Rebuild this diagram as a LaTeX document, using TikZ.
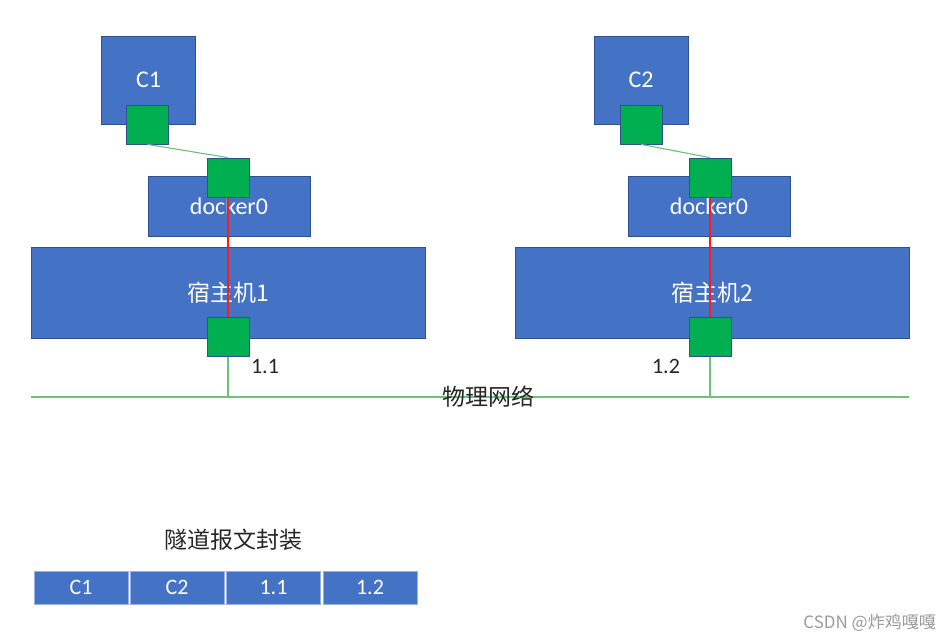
\documentclass[tikz,border=0pt]{standalone}
\usepackage{fontspec}
\setmainfont{Carlito}
\newfontfamily\cjk{Noto Sans CJK SC}
\definecolor{boxblue}{HTML}{4472C4}
\definecolor{boxedge}{HTML}{2F528F}
\definecolor{portgreen}{HTML}{00B050}
\definecolor{linkgreen}{HTML}{6CC27A}
\definecolor{tunnelred}{HTML}{FF1A1A}
\definecolor{wmgray}{HTML}{9A9A9A}
\tikzset{
  bluebox/.style={rectangle, fill=boxblue, draw=boxedge, line width=0.8pt, inner sep=0pt, text=white, font=\fontsize{24}{28}\selectfont},
  port/.style={rectangle, fill=portgreen, draw=boxedge, line width=0.8pt, minimum width=42pt, minimum height=39pt, inner sep=0pt},
  hostbox/.style={bluebox, minimum width=394pt, minimum height=91pt, font=\cjk\fontsize{23}{27}\selectfont},
  dockbox/.style={bluebox, minimum width=162pt, minimum height=60pt},
  ctrbox/.style={bluebox, minimum width=94pt, minimum height=88pt},
  pktbox/.style={rectangle, fill=boxblue, draw=boxblue!55!white, line width=0.8pt, minimum width=94pt, minimum height=33pt, inner sep=0pt, text=white, font=\fontsize{22}{26}\selectfont},
  vethlink/.style={draw=linkgreen, line width=1.1pt},
  tunnel/.style={draw=tunnelred, line width=1.1pt},
  iplabel/.style={text=black!85, font=\fontsize{22}{26}\selectfont, inner sep=0pt},
  cjklabel/.style={text=black!85, font=\cjk\fontsize{23}{27}\selectfont, inner sep=0pt}
}
\begin{document}
\begin{tikzpicture}[x=1pt, y=-1pt]
\useasboundingbox (0,0) rectangle (952,642);
% host 1 side
\node[hostbox] (h1) at (228,292.5) {宿主机1};
\node[dockbox] (d1) at (229,206) {docker0};
\node[ctrbox] (c1) at (148.5,80) {C1};
% host 2 side
\node[hostbox] (h2) at (712,292.5) {宿主机2};
\node[dockbox] (d2) at (709,206) {docker0};
\node[ctrbox] (c2) at (641,80) {C2};
% network
\coordinate (netL) at (31,397);
\coordinate (netR) at (909,397);
\draw[vethlink] (netL) -- (netR);
% ports
\node[port] (cp1) at (147.5,124.5) {};
\node[port] (dp1) at (228,177.5) {};
\node[port] (hp1) at (228,337) {};
\node[port] (cp2) at (641,124.5) {};
\node[port] (dp2) at (710,177.5) {};
\node[port] (hp2) at (710,337) {};
% links
\draw[vethlink] (cp1.south) -- (dp1.north);
\draw[vethlink] (cp2.south) -- (dp2.north);
\draw[tunnel] (dp1.south) -- (hp1.north);
\draw[tunnel] (dp2.south) -- (hp2.north);
\draw[vethlink] (hp1.south) -- (hp1.south |- netL);
\draw[vethlink] (hp2.south) -- (hp2.south |- netL);
% labels
\node[iplabel] (ip1) at (265,366.5) {1.1};
\node[iplabel] (ip2) at (666,366) {1.2};
\node[cjklabel] (net) at (488,397) {物理网络};
% packet
\node[cjklabel] (title) at (233,540) {隧道报文封装};
\node[pktbox] (k1) at (81,587.5) {C1};
\node[pktbox] (k2) at (177,587.5) {C2};
\node[pktbox] (k3) at (273.5,587.5) {1.1};
\node[pktbox] (k4) at (370,587.5) {1.2};
% watermark
\node[anchor=east, text=wmgray, font=\cjk\fontsize{17}{20}\selectfont, inner sep=0pt] (wm) at (936,623) {CSDN @炸鸡嘎嘎};
\end{tikzpicture}
\end{document}
